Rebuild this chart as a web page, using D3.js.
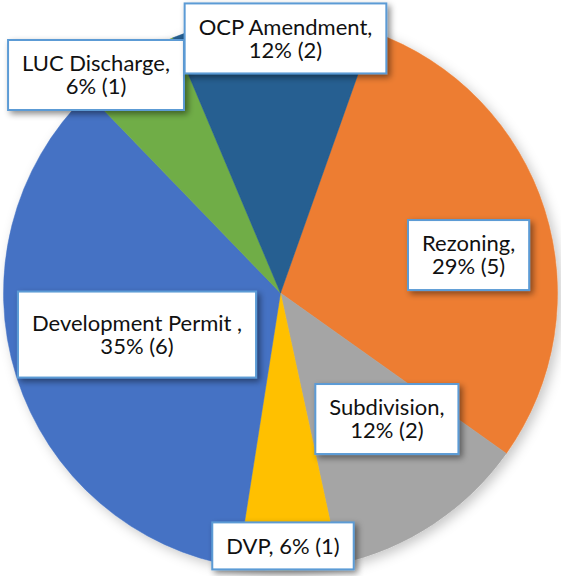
<!DOCTYPE html>
<html>
<head>
<meta charset="utf-8">
<script src="https://cdn.jsdelivr.net/npm/d3@7"></script>
<style>
  html, body { margin: 0; padding: 0; background: #fff; }
  svg { display: block; }
</style>
</head>
<body>
<script>
// chart data
const categories = ["Rezoning", "Subdivision", "DVP", "Development Permit ", "LUC Discharge", "OCP Amendment"];
const counts = [5, 2, 1, 6, 1, 2];
const colors = ["#ED7D31", "#A5A5A5", "#FFC000", "#4472C4", "#70AD47", "#255E91"];
// label text split into lines (true = break after category)
const wrapLabel = [true, true, false, true, true, true];
// label box centre, as offsets from pie centre in units of radius
const labelPos = [[0.679, -0.137], [0.384, 0.455], [0.009, 0.913], [-0.518, 0.150], [-0.666, -0.787], [0.018, -0.919]];
const extraPadY = [0, 0, 0, 8, 0, 0];

const width = 561, height = 576;
const cx = 280.5, cy = 293, radius = 277;
const firstSliceAngle = 19.5; // degrees

const total = d3.sum(counts);
const data = categories.map((c, i) => ({ name: c, value: counts[i], color: colors[i], i }));

const svg = d3.select("body").append("svg")
  .attr("width", width)
  .attr("height", height);

const defs = svg.append("defs");
const pieShadow = defs.append("filter").attr("id", "pieShadow")
  .attr("x", "-10%").attr("y", "-10%").attr("width", "125%").attr("height", "125%");
pieShadow.append("feDropShadow")
  .attr("dx", 4).attr("dy", 4).attr("stdDeviation", 6)
  .attr("flood-color", "#000").attr("flood-opacity", 0.22);

const boxShadow = defs.append("filter").attr("id", "boxShadow")
  .attr("x", "-20%").attr("y", "-30%").attr("width", "150%").attr("height", "170%");
boxShadow.append("feDropShadow")
  .attr("dx", 3).attr("dy", 3).attr("stdDeviation", 3)
  .attr("flood-color", "#000").attr("flood-opacity", 0.45);

const pie = d3.pie()
  .value(d => d.value)
  .sort(null)
  .startAngle(firstSliceAngle * Math.PI / 180)
  .endAngle(firstSliceAngle * Math.PI / 180 + 2 * Math.PI);

const arc = d3.arc().innerRadius(0).outerRadius(radius);

const g = svg.append("g").attr("transform", `translate(${cx},${cy})`);

g.append("g")
  .attr("filter", "url(#pieShadow)")
  .selectAll("path")
  .data(pie(data))
  .join("path")
  .attr("d", arc)
  .attr("fill", d => d.data.color)
  .attr("stroke", d => d.data.color)
  .attr("stroke-width", 0.5);

// data labels
const fmt = d3.format(".0%");
const fontSize = 22, lineH = 23;
const labels = g.append("g")
  .style("font-family", "Lato, 'Open Sans', sans-serif")
  .style("font-size", fontSize + "px")
  .selectAll("g")
  .data(data)
  .join("g")
  .attr("transform", d => `translate(${labelPos[d.i][0] * radius},${labelPos[d.i][1] * radius})`);

labels.each(function(d) {
  const sel = d3.select(this);
  const pct = fmt(d.value / total) + " (" + d.value + ")";
  const lines = wrapLabel[d.i] ? [d.name + ",", pct] : [d.name + ", " + pct];
  const rect = sel.append("rect");
  const text = sel.append("text")
    .attr("text-anchor", "middle")
    .attr("fill", "#111");
  lines.forEach((ln, k) => {
    text.append("tspan")
      .attr("x", 0)
      .attr("y", (k - (lines.length - 1) / 2) * lineH + fontSize * 0.35)
      .text(ln);
  });
  const bb = text.node().getBBox();
  const padX = 14, padY = 12 + extraPadY[d.i];
  const w = bb.width + padX * 2;
  const h = lines.length * lineH + padY * 2;
  rect.attr("x", -w / 2).attr("y", -h / 2)
    .attr("width", w).attr("height", h)
    .attr("fill", "#fff")
    .attr("stroke", "#5B9BD5")
    .attr("stroke-width", 2)
    .attr("filter", "url(#boxShadow)");
});
</script>
</body>
</html>
